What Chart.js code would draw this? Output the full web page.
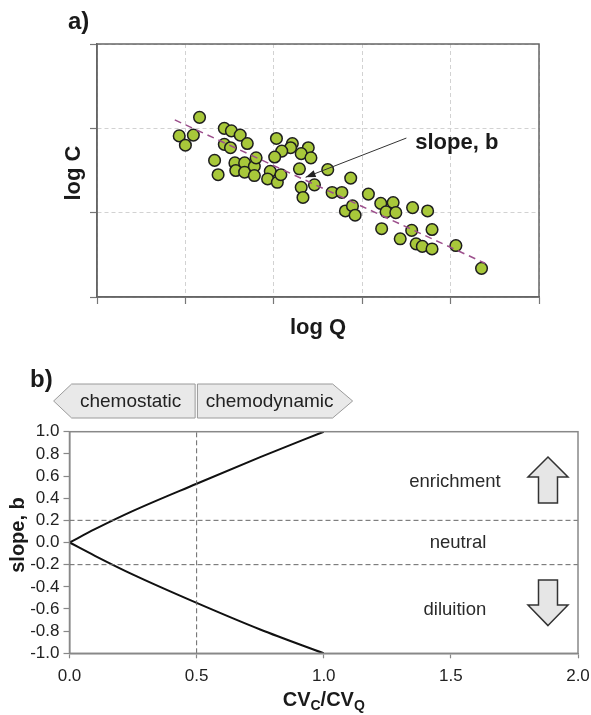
<!DOCTYPE html>
<html><head><meta charset="utf-8">
<script src="https://cdn.jsdelivr.net/npm/chart.js@4/dist/chart.umd.min.js"></script>
<style>
html,body{margin:0;padding:0;background:#fff;}
#wrap{position:relative;width:591px;height:715px;overflow:hidden;}
canvas{position:absolute;left:0;}
</style></head><body>
<div id="wrap">
<canvas id="ca" width="591" height="345" style="top:0"></canvas>
<canvas id="cb" width="591" height="370" style="top:345px"></canvas>
</div>
<script>
// ---------- Panel a data ----------
const logQ = [0.93,1.00,1.09,1.16,1.44,1.52,1.62,1.44,1.51,1.70,1.33,1.37,1.56,1.57,1.67,1.67,1.78,1.80,1.78,2.03,2.21,2.19,2.09,2.01,2.39,2.31,2.42,1.96,1.93,2.04,2.08,2.29,2.31,2.33,2.46,2.61,2.66,2.77,2.87,2.81,2.89,2.92,3.07,3.21,3.35,3.27,3.38,3.22,3.43,3.57,3.56,3.61,3.68,3.74,3.79,3.79,4.06,4.35];
const logC = [1.91,1.80,1.92,2.13,2.00,1.97,1.92,1.81,1.77,1.82,1.62,1.45,1.59,1.50,1.59,1.48,1.55,1.65,1.44,1.88,1.82,1.77,1.73,1.66,1.77,1.70,1.65,1.49,1.40,1.36,1.45,1.52,1.30,1.18,1.33,1.51,1.24,1.24,1.41,1.02,1.08,0.97,1.22,1.11,1.12,1.01,1.00,0.81,0.69,1.06,0.79,0.63,0.60,1.02,0.80,0.57,0.61,0.34];
const fitQ = [0.88, 4.39];
const fitC = [2.10, 0.40];
const slopeNote = {text:'slope, b', x:3.60, y:1.83, fromX:3.50, fromY:1.885, toX:2.36, toY:1.42};

// ---------- Panel b data ----------
const ratio = [0, 0.1, 0.25, 0.5, 0.75, 1.0];
const slopeUpper = [0, 0.12, 0.285, 0.53, 0.77, 1.0];
const slopeLower = [0, -0.12, -0.29, -0.545, -0.785, -1.0];
const xTicksB = [0, 0.5, 1.0, 1.5, 2.0];
const xTickLabelsB = ['0.0','0.5','1.0','1.5','2.0'];
const yTicksB = [-1.0,-0.8,-0.6,-0.4,-0.2,0.0,0.2,0.4,0.6,0.8,1.0];
const yTickLabelsB = ['-1.0','-0.8','-0.6','-0.4','-0.2','0.0','0.2','0.4','0.6','0.8','1.0'];
const thresholds = [0.2, -0.2];
const chemoBoundary = 0.5;
const zoneLabels = [
  {text:'enrichment', x:1.516, y:0.55},
  {text:'neutral', x:1.528, y:0.0},
  {text:'diluition', x:1.516, y:-0.61}
];
const zoneArrows = [
  {x:1.882, tip:0.772, base:0.591, tail:0.357},
  {x:1.882, tip:-0.75, base:-0.564, tail:-0.338}
];

const FONT = "'Liberation Sans', Arial, Helvetica, sans-serif";
Chart.defaults.font.family = FONT;

// ---------- Panel a ----------
const overlayA = {
  id:'overlayA',
  afterDraw(chart){
    const ctx = chart.ctx, ca = chart.chartArea;
    const xs = chart.scales.x, ys = chart.scales.y;
    ctx.save();
    ctx.strokeStyle = '#666'; ctx.lineWidth = 1.5;
    ctx.strokeRect(ca.left, ca.top, ca.right-ca.left, ca.bottom-ca.top);
    ctx.fillStyle = '#1a1a1a';
    ctx.font = 'bold 24px ' + FONT;
    ctx.textAlign = 'left'; ctx.textBaseline = 'middle';
    ctx.fillText('a)', 68, 22);
    ctx.font = 'bold 22px ' + FONT;
    ctx.textAlign = 'center';
    ctx.fillText('log Q', (ca.left+ca.right)/2, 328);
    ctx.save();
    ctx.translate(74, 173); ctx.rotate(-Math.PI/2);
    ctx.fillText('log C', 0, 0);
    ctx.restore();
    // annotation
    ctx.textAlign = 'left';
    ctx.fillText(slopeNote.text, xs.getPixelForValue(slopeNote.x), ys.getPixelForValue(slopeNote.y));
    const x1 = xs.getPixelForValue(slopeNote.fromX), y1 = ys.getPixelForValue(slopeNote.fromY);
    const x2 = xs.getPixelForValue(slopeNote.toX), y2 = ys.getPixelForValue(slopeNote.toY);
    ctx.strokeStyle = '#333'; ctx.lineWidth = 1;
    ctx.beginPath(); ctx.moveTo(x1,y1); ctx.lineTo(x2,y2); ctx.stroke();
    const ang = Math.atan2(y2-y1, x2-x1), L = 10, W = 3.5;
    ctx.fillStyle = '#222';
    ctx.beginPath();
    ctx.moveTo(x2,y2);
    ctx.lineTo(x2 - L*Math.cos(ang) + W*Math.sin(ang), y2 - L*Math.sin(ang) - W*Math.cos(ang));
    ctx.lineTo(x2 - L*Math.cos(ang) - W*Math.sin(ang), y2 - L*Math.sin(ang) + W*Math.cos(ang));
    ctx.closePath(); ctx.fill();
    ctx.restore();
  }
};

const gridA = {color:'#d2d2d2', lineWidth:1, tickColor:'#777', tickLength:7, tickWidth:1.2};
new Chart(document.getElementById('ca'), {
  type:'scatter',
  data:{datasets:[
    {label:'fit', type:'line', data: fitQ.map((x,i)=>({x, y:fitC[i]})), borderColor:'#9c4f8c', borderWidth:1.5, borderDash:[7,5], pointRadius:0, fill:false, order:0},
    {label:'obs', data: logQ.map((x,i)=>({x, y:logC[i]})), backgroundColor:'#a8c83a', borderColor:'#1e1e1e', borderWidth:1.5, pointRadius:5.8, order:1}
  ]},
  options:{
    responsive:false, animation:false, devicePixelRatio:1,
    layout:{padding:{left:0, top:44, right:52, bottom:48}},
    plugins:{legend:{display:false}, tooltip:{enabled:false}},
    scales:{
      x:{type:'linear', min:0, max:5, ticks:{stepSize:1, display:false}, grid:gridA, border:{color:'#666', width:1.5, dash:[4,3]}, afterFit(s){s.height=0;}},
      y:{type:'linear', min:0, max:3, ticks:{stepSize:1, display:false}, grid:gridA, border:{color:'#666', width:1.5, dash:[4,3]}, afterFit(s){s.width=97;}}
    }
  },
  plugins:[overlayA]
});

// ---------- Panel b ----------
const overlayB = {
  id:'overlayB',
  afterDraw(chart){
    const ctx = chart.ctx, ca = chart.chartArea;
    const xs = chart.scales.x, ys = chart.scales.y;
    ctx.save();
    ctx.strokeStyle = '#888'; ctx.lineWidth = 1.5;
    ctx.strokeRect(ca.left, ca.top, ca.right-ca.left, ca.bottom-ca.top);
    // b) label
    ctx.fillStyle = '#1a1a1a';
    ctx.font = 'bold 24px ' + FONT;
    ctx.textAlign = 'left'; ctx.textBaseline = 'middle';
    ctx.fillText('b)', 30, 35);
    // regime shapes
    const xb = xs.getPixelForValue(chemoBoundary);
    const t = 39, b = 73, m = 56;
    ctx.lineWidth = 1; ctx.strokeStyle = '#9a9a9a'; ctx.fillStyle = '#e9e9e9';
    ctx.beginPath();
    ctx.moveTo(xb-143, m); ctx.lineTo(xb-125, t); ctx.lineTo(xb-1.5, t); ctx.lineTo(xb-1.5, b); ctx.lineTo(xb-125, b); ctx.closePath();
    ctx.fill(); ctx.stroke();
    ctx.beginPath();
    ctx.moveTo(xb+0.8, t); ctx.lineTo(xb+136, t); ctx.lineTo(xb+156, m); ctx.lineTo(xb+136, b); ctx.lineTo(xb+0.8, b); ctx.closePath();
    ctx.fill(); ctx.stroke();
    ctx.fillStyle = '#222'; ctx.font = '19px ' + FONT; ctx.textAlign = 'center';
    ctx.fillText('chemostatic', xb-66, m+1);
    ctx.fillText('chemodynamic', xb+73, m+1);
    // axis titles
    ctx.fillStyle = '#1a1a1a';
    ctx.font = 'bold 20px ' + FONT;
    ctx.save();
    ctx.translate(18, 190); ctx.rotate(-Math.PI/2);
    ctx.textAlign = 'center';
    ctx.fillText('slope, b', 0, 0);
    ctx.restore();
    const parts = [['CV',0],['C',1],['/CV',0],['Q',1]];
    const big = 'bold 20px ' + FONT, small = 'bold 14px ' + FONT;
    let w = 0;
    parts.forEach(p=>{ctx.font = p[1]?small:big; w += ctx.measureText(p[0]).width;});
    let x = (ca.left+ca.right)/2 - w/2; const y = 355;
    ctx.textAlign = 'left';
    parts.forEach(p=>{ctx.font = p[1]?small:big; ctx.fillText(p[0], x, p[1]? y+6 : y); x += ctx.measureText(p[0]).width;});
    // zone labels
    ctx.fillStyle = '#2a2a2a'; ctx.font = '18.5px ' + FONT; ctx.textAlign = 'center';
    zoneLabels.forEach(z=>ctx.fillText(z.text, xs.getPixelForValue(z.x), ys.getPixelForValue(z.y)));
    // arrows
    ctx.fillStyle = '#e6e6e6'; ctx.strokeStyle = '#333'; ctx.lineWidth = 1.5; ctx.lineJoin = 'miter';
    zoneArrows.forEach(a=>{
      const cx = xs.getPixelForValue(a.x);
      const yt = ys.getPixelForValue(a.tip), yb = ys.getPixelForValue(a.base), yl = ys.getPixelForValue(a.tail);
      const hw = 20, sw = 9.5;
      ctx.beginPath();
      ctx.moveTo(cx, yt); ctx.lineTo(cx+hw, yb); ctx.lineTo(cx+sw, yb); ctx.lineTo(cx+sw, yl);
      ctx.lineTo(cx-sw, yl); ctx.lineTo(cx-sw, yb); ctx.lineTo(cx-hw, yb); ctx.closePath();
      ctx.fill(); ctx.stroke();
    });
    ctx.restore();
  }
};

const refStyle = {borderColor:'#666', borderWidth:1, borderDash:[5,3], pointRadius:0, fill:false, showLine:true};
const xMinB = xTicksB[0], xMaxB = xTicksB[xTicksB.length-1];
const yMinB = yTicksB[0], yMaxB = yTicksB[yTicksB.length-1];
new Chart(document.getElementById('cb'), {
  type:'scatter',
  data:{datasets:[
    Object.assign({label:'t+', data:[{x:xMinB,y:thresholds[0]},{x:xMaxB,y:thresholds[0]}]}, refStyle),
    Object.assign({label:'t-', data:[{x:xMinB,y:thresholds[1]},{x:xMaxB,y:thresholds[1]}]}, refStyle),
    Object.assign({label:'cb', data:[{x:chemoBoundary,y:yMinB},{x:chemoBoundary,y:yMaxB}]}, refStyle),
    {label:'upper', data: ratio.map((x,i)=>({x, y:slopeUpper[i]})), showLine:true, borderColor:'#111', borderWidth:2, pointRadius:0, cubicInterpolationMode:'monotone'},
    {label:'lower', data: ratio.map((x,i)=>({x, y:slopeLower[i]})), showLine:true, borderColor:'#111', borderWidth:2, pointRadius:0, cubicInterpolationMode:'monotone'}
  ]},
  options:{
    responsive:false, animation:false, devicePixelRatio:1,
    layout:{padding:{left:0, top:86.7, right:13, bottom:0}},
    plugins:{legend:{display:false}, tooltip:{enabled:false}},
    scales:{
      x:{type:'linear', min:xMinB, max:xMaxB,
         afterBuildTicks(s){s.ticks = xTicksB.map(v=>({value:v}));},
         ticks:{callback:(v,i)=>xTickLabelsB[i], font:{size:17}, color:'#222', padding:8, maxRotation:0, autoSkip:false},
         grid:{drawOnChartArea:false, tickLength:5, tickColor:'#888', tickWidth:1.2},
         border:{color:'#888', width:1.5},
         afterFit(s){s.height=61.7; s.paddingLeft=0; s.paddingRight=0;}},
      y:{type:'linear', min:yMinB, max:yMaxB,
         afterBuildTicks(s){s.ticks = yTicksB.map(v=>({value:v}));},
         ticks:{callback:(v,i)=>yTickLabelsB[i], font:{size:17}, color:'#222', padding:4, autoSkip:false},
         grid:{drawOnChartArea:false, tickLength:6, tickColor:'#888', tickWidth:1.2},
         border:{color:'#888', width:1.5},
         afterFit(s){s.width=69.5; s.paddingTop=0; s.paddingBottom=0;}}
    }
  },
  plugins:[overlayB]
});
</script>
</body></html>
